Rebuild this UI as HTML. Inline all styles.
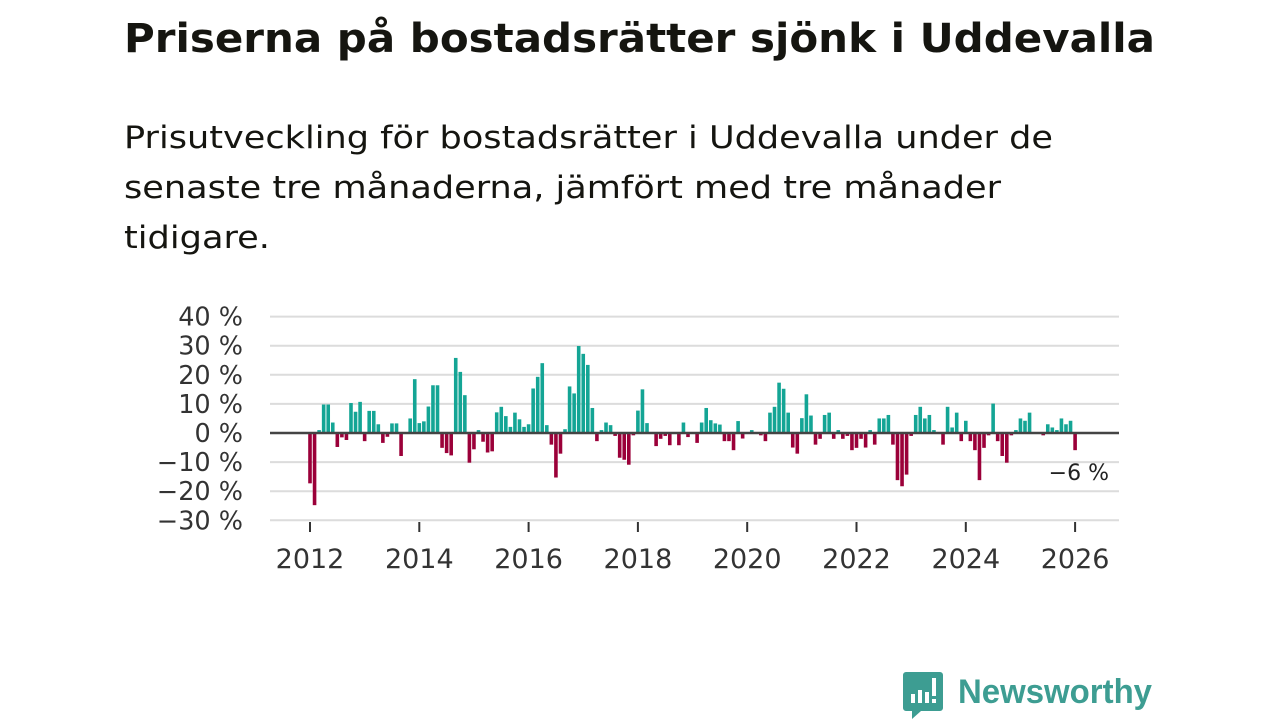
<!DOCTYPE html>
<html><head><meta charset="utf-8"><style>
html,body{margin:0;padding:0;background:#fff;}
svg{display:block;font-family:"DejaVu Sans","Liberation Sans",sans-serif;}
</style></head><body>
<svg id="chart" width="1280" height="720" viewBox="0 0 1280 720" xmlns="http://www.w3.org/2000/svg">
<text x="124" y="52" font-size="40" font-weight="bold" fill="#151510" textLength="1031" lengthAdjust="spacingAndGlyphs">Priserna på bostadsrätter sjönk i Uddevalla</text>
<g font-size="31" fill="#151510">
<text x="124" y="148" textLength="929" lengthAdjust="spacingAndGlyphs">Prisutveckling för bostadsrätter i Uddevalla under de</text>
<text x="124" y="198" textLength="877" lengthAdjust="spacingAndGlyphs">senaste tre månaderna, jämfört med tre månader</text>
<text x="124" y="248" textLength="146" lengthAdjust="spacingAndGlyphs">tidigare.</text>
</g>
<g id="grid"></g>
<g id="ylabels"></g>
<g id="bars"></g>
<line x1="270" x2="1119" y1="433" y2="433" stroke="#444" stroke-width="2.5"/>
<g id="xaxis"></g>
<text x="1109" y="480" text-anchor="end" font-size="22" fill="#222">−6 %</text>
<g>
<path d="M906 672 h34 a3 3 0 0 1 3 3 v33 a3 3 0 0 1 -3 3 h-19 l-9 8 v-8 h-6 a3 3 0 0 1 -3 -3 v-33 a3 3 0 0 1 3 -3z" fill="#3d9d92"/>
<rect x="911" y="694" width="4" height="9" fill="#fff"/>
<rect x="918" y="690" width="4" height="13" fill="#fff"/>
<rect x="925" y="692" width="4" height="11" fill="#fff"/>
<rect x="932" y="678" width="4" height="18" fill="#fff"/>
<rect x="932" y="699" width="4" height="4" fill="#fff"/>
<text x="958" y="703" font-size="34" font-weight="bold" font-family="Liberation Sans, sans-serif" fill="#3d9d92" textLength="194" lengthAdjust="spacingAndGlyphs">Newsworthy</text>
</g>
</svg>
<script>
const values = [-17.3,-24.8,1,9.8,9.8,3.6,-4.8,-1.5,-2.4,10.3,7.3,10.7,
-2.8,7.6,7.6,3,-3.4,-1.3,3.3,3.3,-7.9,0,5,18.5,
3.4,4,9.1,16.4,16.4,-5.1,-6.9,-7.7,25.8,21,13,-10.2,
-5.6,1,-3,-6.7,-6.3,7.1,9,5.8,2.1,7,4.7,2.1,
3,15.3,19.3,24,2.7,-4,-15.3,-7.1,1.3,16,13.6,29.9,
27.2,23.4,8.6,-2.8,1,3.6,2.7,-1,-8.5,-9.2,-10.9,-0.8,
7.7,15,3.4,0,-4.5,-2,-1,-4.2,0,-4.2,3.6,-1.4,
0,-3.4,3.6,8.6,4.4,3.3,2.9,-2.8,-2.8,-5.9,4.1,-1.9,
0,1,0,-0.8,-2.8,7,9,17.3,15.2,7,-5,-7.1,
5.1,13.3,6,-4,-2,6.2,7,-2,1,-2,-1,-5.9,
-5.1,-2,-5,1,-4,5,5,6.2,-4,-16.2,-18.3,-14.3,
-1,6.2,9,5,6.2,1,0,-4,9,1.9,7,-2.8,
4.2,-2.8,-5.9,-16.2,-5.1,-0.8,10.1,-2.8,-7.9,-10.2,-0.8,1,
5,4.2,7,0,0,-0.8,3,1.9,1,5,3,4.2,
-5.9];
const yTicks = [40,30,20,10,0,-10,-20,-30];
const xYears = [2012,2014,2016,2018,2020,2022,2024,2026];
const NS='http://www.w3.org/2000/svg';
const y = v => 433 - v*2.91;
const x = m => 310 + m*(54.65/12);
const grid=document.getElementById('grid'), yl=document.getElementById('ylabels'), bars=document.getElementById('bars'), xa=document.getElementById('xaxis');
yTicks.forEach(t=>{
  if(t!==0){const l=document.createElementNS(NS,'line');
  
  
  l.setAttribute('x1',270);l.setAttribute('x2',1119);l.setAttribute('y1',y(t));l.setAttribute('y2',y(t));
  l.setAttribute('stroke','#dcdcdc');l.setAttribute('stroke-width','2');grid.appendChild(l);}
  const tx=document.createElementNS(NS,'text');
  
  
  tx.setAttribute('x',243);tx.setAttribute('y',y(t)+9);tx.setAttribute('text-anchor','end');
  tx.setAttribute('font-size','25.5');tx.setAttribute('fill','#333');
  tx.textContent=(t<0?'−'+(-t):t)+' %';yl.appendChild(tx);
});
values.forEach((v,i)=>{
  if(v===0)return;
  const r=document.createElementNS(NS,'rect');
  
  
  r.setAttribute('x',x(i)-1.8);r.setAttribute('width',3.6);
  r.setAttribute('y',Math.min(y(v),433));r.setAttribute('height',Math.abs(y(v)-433));
  r.setAttribute('fill',v>0?'#14a595':'#9b0039');bars.appendChild(r);
});
xYears.forEach(yr=>{
  const px=x((yr-2012)*12);
  const l=document.createElementNS(NS,'line');
  
  
  l.setAttribute('x1',px);l.setAttribute('x2',px);l.setAttribute('y1',522);l.setAttribute('y2',532);
  l.setAttribute('stroke','#333');l.setAttribute('stroke-width','2');xa.appendChild(l);
  const tx=document.createElementNS(NS,'text');
  
  
  tx.setAttribute('x',px);tx.setAttribute('y',568);tx.setAttribute('text-anchor','middle');
  tx.setAttribute('font-size','27');tx.setAttribute('fill','#333');
  tx.textContent=yr;xa.appendChild(tx);
});
</script>
</body></html>
